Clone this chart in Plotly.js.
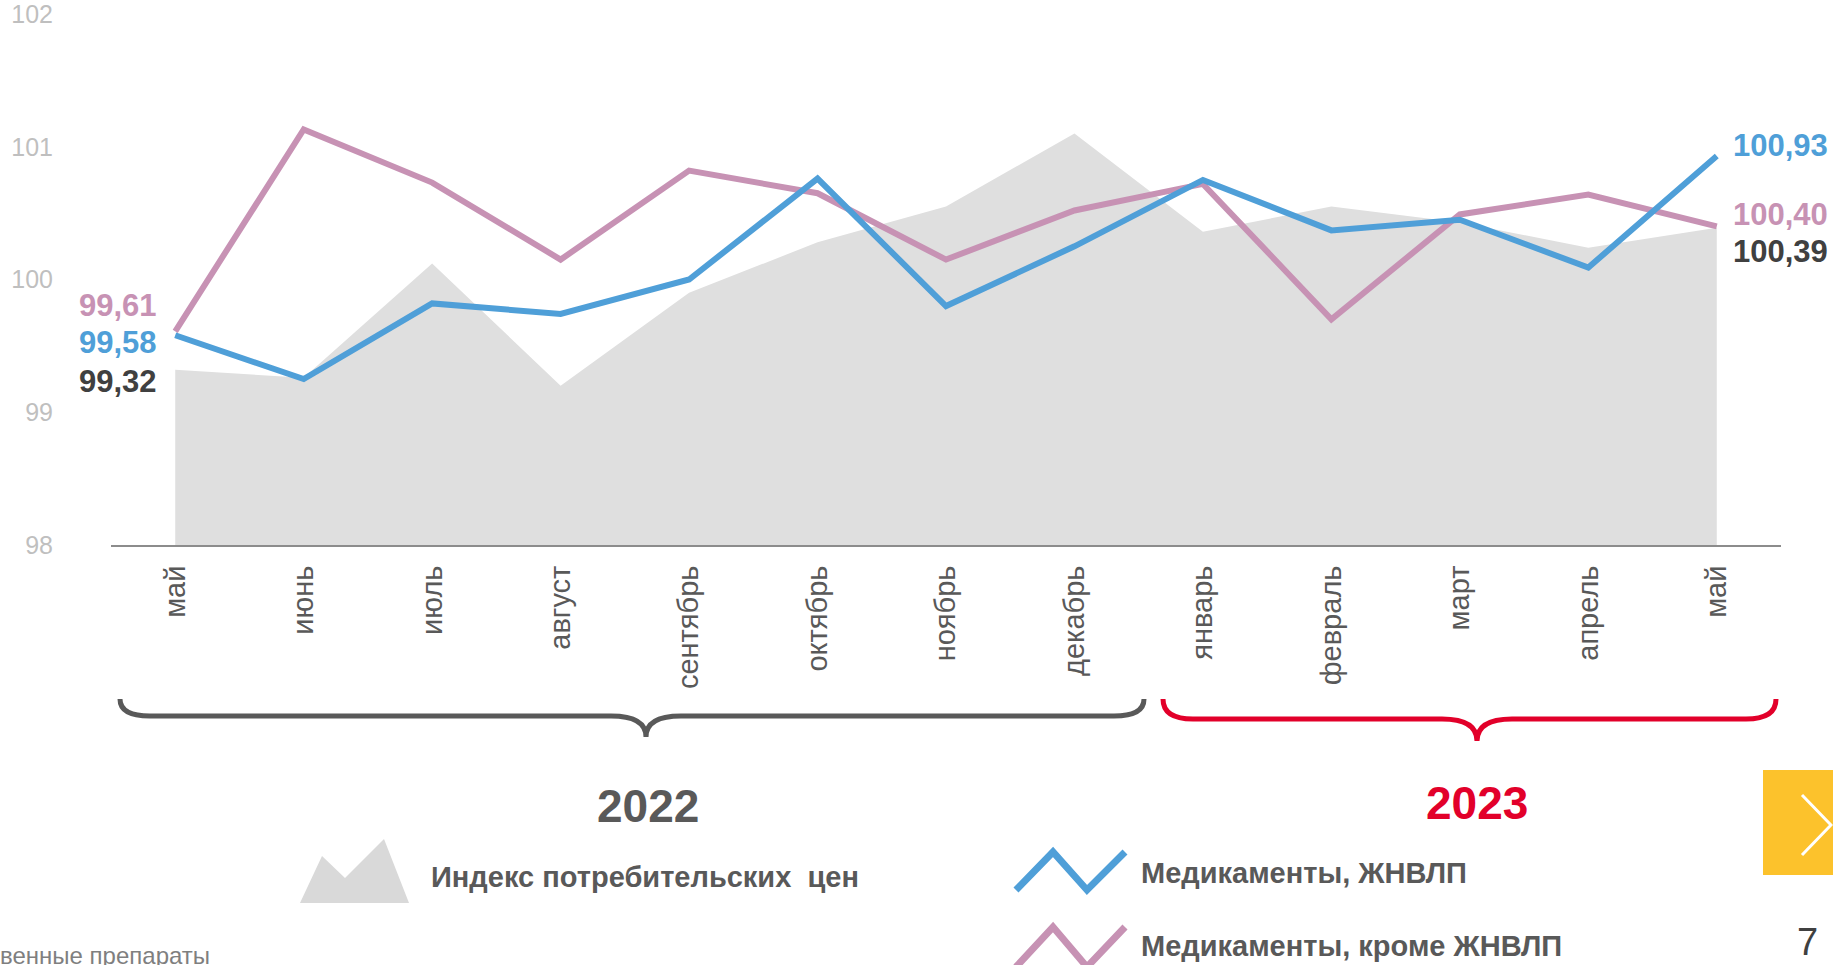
<!DOCTYPE html>
<html>
<head>
<meta charset="utf-8">
<script src="https://cdn.plot.ly/plotly-3.0.1.min.js"></script>
<style>html,body{margin:0;padding:0;background:#fff;}#chart{width:1833px;height:965px;}</style>
</head>
<body>
<div id="chart"></div>
<script>
// ---- data ----
const months = ['май','июнь','июль','август','сентябрь','октябрь','ноябрь','декабрь','январь','февраль','март','апрель','май'];
const cpi     = [99.32, 99.26, 100.12, 99.20, 99.90, 100.28, 100.55, 101.10, 100.36, 100.55, 100.43, 100.24, 100.39];
const zhnvlp  = [99.58, 99.25, 99.82, 99.74, 100.00, 100.76, 99.80, 100.25, 100.75, 100.37, 100.45, 100.09, 100.93];
const other   = [99.61, 101.13, 100.73, 100.15, 100.82, 100.65, 100.15, 100.52, 100.72, 99.70, 100.49, 100.64, 100.40];
const yTicks  = [98, 99, 100, 101, 102];
const years   = ['2022', '2023'];
const legendNames = ['Индекс потребительских\u00A0 цен', 'Медикаменты, ЖНВЛП', 'Медикаменты, кроме ЖНВЛП'];

// ---- layout helpers ----
const W = 1833, H = 965, ML = 111, MR = 52, MT = 14, MB = 420;
const PW = W - ML - MR, PH = H - MT - MB, BOT = H - MB;
const px = x => (x - ML) / PW;
const py = y => (BOT - y) / PH;
const FONT = '"Liberation Sans", Arial, sans-serif';
const C_BLUE = '#4f9fd8', C_PINK = '#c792b4', C_GREY = '#dfdfdf', C_DARK = '#404040', C_TXT = '#595959', C_RED = '#e2002a';

const idx = months.map((_, i) => i);
const fmt = v => v.toFixed(2).replace('.', ',');
const last = months.length - 1;

const traces = [
  { x: idx, y: cpi, type: 'scatter', mode: 'lines', fill: 'tozeroy', fillcolor: C_GREY,
    line: { width: 0, color: 'rgba(0,0,0,0)' }, hoverinfo: 'skip', name: legendNames[0] },
  { x: idx, y: other, type: 'scatter', mode: 'lines', line: { width: 6, color: C_PINK }, name: legendNames[2] },
  { x: idx, y: zhnvlp, type: 'scatter', mode: 'lines', line: { width: 6, color: C_BLUE }, name: legendNames[1] }
];

function pathPx(pts) {
  return pts.map((p, i) => (i === 0 ? 'M' : 'L') + px(p[0]) + ',' + py(p[1])).join(' ');
}
function brace(x0, x1, xm, yTop, yMid, yTip) {
  const r = 30, h = 35;
  const P = (x, y) => px(x) + ',' + py(y);
  return 'M' + P(x0, yTop) + ' Q' + P(x0, yMid) + ' ' + P(x0 + r, yMid) +
         ' L' + P(xm - h, yMid) + ' Q' + P(xm, yMid) + ' ' + P(xm, yTip) +
         ' Q' + P(xm, yMid) + ' ' + P(xm + h, yMid) +
         ' L' + P(x1 - r, yMid) + ' Q' + P(x1, yMid) + ' ' + P(x1, yTop);
}

const shapes = [
  // year braces
  { type: 'path', xref: 'paper', yref: 'paper', path: brace(120, 1144, 646, 699, 716, 737), line: { color: C_TXT, width: 5 } },
  { type: 'path', xref: 'paper', yref: 'paper', path: brace(1163, 1776, 1477, 699, 719, 741), line: { color: C_RED, width: 5 } },
  // legend icons
  { type: 'path', xref: 'paper', yref: 'paper', fillcolor: '#d9d9d9', line: { width: 0 },
    path: pathPx([[300, 903], [322, 856], [345, 878], [384, 839], [409, 903]]) + ' Z' },
  { type: 'path', xref: 'paper', yref: 'paper', line: { color: C_BLUE, width: 7 },
    path: pathPx([[1016, 890], [1053, 852], [1087, 890], [1125, 852]]) },
  { type: 'path', xref: 'paper', yref: 'paper', line: { color: C_PINK, width: 7 },
    path: pathPx([[1016, 967], [1053, 927], [1087, 967], [1125, 927]]) },
  // yellow nav box
  { type: 'rect', xref: 'paper', yref: 'paper', x0: px(1763), x1: px(1840), y0: py(875), y1: py(770),
    fillcolor: '#fcc22c', line: { width: 0 } },
  { type: 'path', xref: 'paper', yref: 'paper', line: { color: '#ffffff', width: 3 },
    path: pathPx([[1802, 795], [1831, 825], [1802, 855]]) }
];

const lab = (xi, arr, color, anchor, xs, ys) => ({
  x: xi, y: arr[xi], xref: 'x', yref: 'y', text: '<b>' + fmt(arr[xi]) + '</b>', showarrow: false,
  xanchor: anchor, yanchor: 'middle', xshift: xs, yshift: ys,
  font: { family: FONT, size: 31, color: color }
});

const annotations = [
  lab(0, other, C_PINK, 'right', -16, 26),
  lab(0, zhnvlp, C_BLUE, 'right', -16, -7),
  lab(0, cpi, C_DARK, 'right', -16, -12),
  lab(last, zhnvlp, C_BLUE, 'left', 14, 11),
  lab(last, other, C_PINK, 'left', 14, 12),
  lab(last, cpi, C_DARK, 'left', 14, -24),
  { xref: 'paper', yref: 'paper', x: px(648), y: py(806), text: '<b>' + years[0] + '</b>', showarrow: false,
    xanchor: 'center', yanchor: 'middle', font: { family: FONT, size: 46, color: C_TXT } },
  { xref: 'paper', yref: 'paper', x: px(1477), y: py(803), text: '<b>' + years[1] + '</b>', showarrow: false,
    xanchor: 'center', yanchor: 'middle', font: { family: FONT, size: 46, color: C_RED } },
  { xref: 'paper', yref: 'paper', x: px(429), y: py(877), text: '<b>' + legendNames[0] + '</b>', showarrow: false,
    xanchor: 'left', yanchor: 'middle', font: { family: FONT, size: 29, color: C_TXT } },
  { xref: 'paper', yref: 'paper', x: px(1139), y: py(873), text: '<b>' + legendNames[1] + '</b>', showarrow: false,
    xanchor: 'left', yanchor: 'middle', font: { family: FONT, size: 29, color: C_TXT } },
  { xref: 'paper', yref: 'paper', x: px(1139), y: py(946), text: '<b>' + legendNames[2] + '</b>', showarrow: false,
    xanchor: 'left', yanchor: 'middle', font: { family: FONT, size: 29, color: C_TXT } },
  { xref: 'paper', yref: 'paper', x: px(1807), y: py(942), text: '7', showarrow: false,
    xanchor: 'center', yanchor: 'middle', font: { family: FONT, size: 38, color: C_DARK } },
  { xref: 'paper', yref: 'paper', x: px(-2), y: py(955), text: 'венные препараты', showarrow: false,
    xanchor: 'left', yanchor: 'middle', font: { family: FONT, size: 24, color: '#7f7f7f' } }
];

const layout = {
  width: W, height: H,
  margin: { l: ML, r: MR, t: MT, b: MB, pad: 0 },
  paper_bgcolor: '#ffffff', plot_bgcolor: '#ffffff',
  showlegend: false,
  font: { family: FONT },
  xaxis: {
    range: [-0.5, months.length - 0.5], tickvals: idx, ticktext: months, tickangle: -90,
    showgrid: false, zeroline: false, showline: true, linecolor: '#8c8c8c', linewidth: 2,
    ticks: 'outside', ticklen: 7, tickcolor: 'rgba(0,0,0,0)',
    tickfont: { family: FONT, size: 29, color: C_TXT }, fixedrange: true
  },
  yaxis: {
    range: [98, 102], tickvals: yTicks, ticktext: yTicks.map(String),
    showgrid: false, zeroline: false, showline: false,
    ticks: 'outside', ticklen: 52, tickcolor: 'rgba(0,0,0,0)', ticklabeloverflow: 'allow',
    tickfont: { family: FONT, size: 25, color: '#bfbfbf' }, fixedrange: true
  },
  shapes: shapes,
  annotations: annotations
};

Plotly.newPlot('chart', traces, layout, { staticPlot: true, displayModeBar: false });
</script>
</body>
</html>
